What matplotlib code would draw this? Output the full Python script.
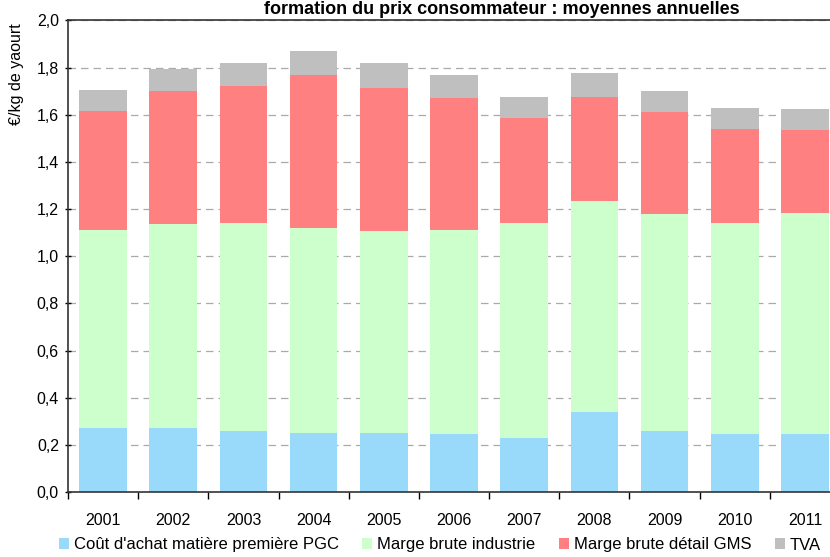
import matplotlib.pyplot as plt
import numpy as np

plt.rcParams['font.family'] = ['Liberation Sans', 'DejaVu Sans']

years = ['2001', '2002', '2003', '2004', '2005', '2006', '2007', '2008', '2009', '2010', '2011']
cout_matiere = [0.27, 0.27, 0.26, 0.25, 0.25, 0.245, 0.23, 0.34, 0.26, 0.245, 0.245]
marge_industrie = [0.84, 0.865, 0.88, 0.87, 0.855, 0.865, 0.91, 0.895, 0.92, 0.895, 0.94]
marge_gms = [0.505, 0.565, 0.58, 0.65, 0.61, 0.56, 0.445, 0.44, 0.43, 0.40, 0.35]
tva = [0.09, 0.095, 0.10, 0.10, 0.105, 0.10, 0.09, 0.10, 0.09, 0.09, 0.09]

labels = ["Coût d'achat matière première PGC", "Marge brute industrie",
          "Marge brute détail GMS", "TVA"]
colors = ['#99D9FA', '#CCFFCC', '#FF8080', '#BFBFBF']

fig = plt.figure(figsize=(8.3, 5.57), dpi=100)
ax = fig.add_axes([68 / 830, 65 / 557, 772 / 830, 471.6 / 557])

x = np.arange(len(years))
bottom = np.zeros(len(years))
for vals, lab, col in zip([cout_matiere, marge_industrie, marge_gms, tva], labels, colors):
    ax.bar(x, vals, width=0.68, bottom=bottom, color=col, label=lab, zorder=2)
    bottom += np.array(vals)

ax.set_xlim(-0.5, 10.5)
ax.set_ylim(0, 2.0)
yt = np.arange(0, 2.01, 0.2)
ax.set_yticks(yt)
ax.set_yticklabels([f'{v:.1f}'.replace('.', ',') for v in yt])
ax.yaxis.grid(True, linestyle=(0, (6, 4)), color='#AAAAAA', linewidth=0.9, zorder=0)
ax.set_axisbelow(True)

ax.set_xticks(x)
ax.set_xticklabels(years)
ax.set_xticks(np.arange(-0.5, 11, 1), minor=True)
ax.tick_params(axis='x', which='major', length=0, pad=15, labelsize=11.5)
ax.tick_params(axis='x', which='minor', length=5, width=1, direction='out')
ax.tick_params(axis='y', length=5, width=1, direction='inout', labelsize=11.5, pad=4)

for s in ['left', 'bottom', 'top']:
    ax.spines[s].set_color('#333333')
    ax.spines[s].set_linewidth(1.2)
ax.spines['right'].set_visible(False)

fig.text(16 / 830, 1 - 74 / 557, '€/kg de yaourt', rotation=90, ha='center', va='center',
         fontsize=11.5)
fig.text(502 / 830, 1 - 9 / 557, 'formation du prix consommateur : moyennes annuelles',
         ha='center', va='center', fontsize=13, fontweight='bold')

fig.legend(loc='center', bbox_to_anchor=(440 / 830, 1 - 545 / 557), ncol=4, frameon=False,
           fontsize=12, handlelength=0.6, handleheight=0.6, handletextpad=0.3,
           columnspacing=1.4, borderaxespad=0)

fig.savefig('out.png', dpi=100)
